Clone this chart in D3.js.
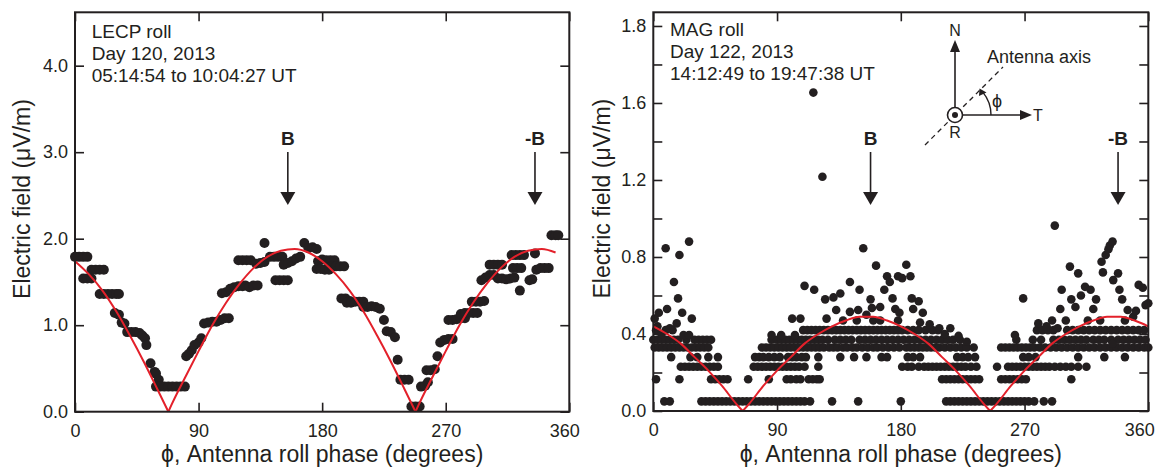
<!DOCTYPE html>
<html>
<head>
<meta charset="utf-8">
<script src="https://cdn.jsdelivr.net/npm/d3@7"></script>
<style>
  body { margin: 0; background: #fff; }
  svg text { font-family: "Liberation Sans", Arial, Helvetica, sans-serif; fill: #231f20; }
  .tick text { font-size: 18px; }
</style>
</head>
<body>
<svg id="chart" width="1161" height="468"></svg>
<script>
// ---- data ----
const xTicks = [0, 90, 180, 270, 360];

const lecpYTicks = [0, 1, 2, 3, 4];
const lecpYTickText = ["0.0", "1.0", "2.0", "3.0", "4.0"];
// the original figure labels the 2.0 tick "1.8"
const magYTicks = [0, 0.2, 0.4, 0.6, 0.8, 1.0, 1.2, 1.4, 1.6, 1.8, 2.0];
const magYTickText = ["0.0", "", "0.4", "", "0.8", "", "1.2", "", "1.6", "", "1.8"];

const lecpTitle = ["LECP roll", "Day 120, 2013", "05:14:54 to 10:04:27 UT"];
const magTitle = ["MAG roll", "Day 122, 2013", "14:12:49 to 19:47:38 UT"];

const arrowLabels = ["B", "-B"];
const lecpArrowPhi = [155, 335];
const magArrowPhi = [158, 338];

// LECP roll, [phase deg, field uV/m]
const lecpPoints = [
  [0,1.79],[3,1.79],[6,1.79],[9,1.79],
  [6,1.54],[9,1.54],[12,1.54],
  [12,1.64],[15,1.64],[18,1.64],[21,1.64],
  [18,1.36],[21,1.36],[24,1.36],[27,1.36],[30,1.36],[32,1.36],
  [29,1.14],[32,1.12],[34,1.03],[36,1.02],
  [38,0.92],[41,0.92],[44,0.92],[47,0.91],[49,0.88],[51,0.85],
  [52,0.77],[55,0.56],[58,0.46],[59,0.44],[61,0.37],
  [59,0.29],[62,0.29],[65,0.29],[68,0.29],[71,0.29],[74,0.29],[77,0.29],[80,0.29],
  [81,0.64],[83,0.67],[85,0.71],[87,0.77],[90,0.80],[92,0.85],
  [94,1.02],[97,1.03],[100,1.04],[103,1.04],[106,1.06],[109,1.08],[112,1.08],
  [107,1.37],[110,1.38],[113,1.42],[116,1.44],[119,1.45],[122,1.45],
  [119,1.75],[122,1.75],[125,1.75],[128,1.75],
  [124,1.46],[127,1.44],[130,1.46],[133,1.46],
  [132,1.71],[135,1.72],[138,1.73],[138,1.95],
  [142,1.79],[145,1.79],[148,1.79],[151,1.79],
  [146,1.52],[149,1.52],[152,1.52],[155,1.52],
  [152,1.70],[155,1.72],[158,1.74],[161,1.77],[164,1.79],
  [167,1.95],[170,1.89],[173,1.90],[176,1.88],
  [177,1.74],[180,1.76],[183,1.75],[186,1.75],[189,1.75],
  [176,1.65],[179,1.65],[182,1.64],[185,1.64],
  [187,1.68],[190,1.68],[193,1.68],[196,1.68],
  [194,1.31],[197,1.31],[200,1.28],
  [198,1.26],[201,1.26],[204,1.27],[207,1.27],[210,1.27],
  [210,1.21],[213,1.21],[216,1.22],[219,1.21],[222,1.19],
  [225,1.06],[227,0.93],[230,0.92],[233,0.86],[235,0.60],
  [237,0.37],[240,0.37],[243,0.37],
  [245,0.06],[248,0.06],[251,0.06],
  [252,0.29],[255,0.30],[257,0.34],
  [256,0.48],[259,0.48],[262,0.49],[264,0.64],
  [266,0.80],[269,0.83],[272,0.84],[275,0.84],
  [272,1.06],[275,1.06],[278,1.07],[281,1.08],[284,1.08],
  [281,1.13],[284,1.14],[287,1.14],[290,1.14],[293,1.14],
  [289,1.27],[292,1.27],[295,1.27],[298,1.28],
  [296,1.52],[299,1.55],[302,1.58],[305,1.58],
  [302,1.70],[305,1.70],[308,1.70],[311,1.70],
  [308,1.54],[311,1.54],[314,1.53],[317,1.54],[320,1.55],
  [318,1.81],[321,1.81],[324,1.81],[327,1.81],
  [319,1.66],[322,1.66],[325,1.66],[324,1.40],
  [331,1.52],[333,1.53],[335,1.83],
  [336,1.64],[339,1.66],[342,1.66],[345,1.66],
  [347,2.04],[350,2.04],[352,2.04]
];

// red fitted curves, [phase, field]
const lecpFit = [
  [0,1.74],[10,1.59],[20,1.40],[30,1.16],[40,0.88],[50,0.58],[60,0.26],[68,0],
  [70,0.07],[80,0.39],[90,0.70],[100,1.00],[110,1.26],[120,1.48],[130,1.66],[140,1.79],
  [150,1.86],[160,1.88],[170,1.84],[180,1.74],[190,1.59],[200,1.40],[210,1.16],[220,0.88],
  [230,0.58],[240,0.26],[248,0],
  [250,0.07],[260,0.39],[270,0.70],[280,1.00],[290,1.26],[300,1.48],[310,1.66],[320,1.79],
  [330,1.86],[340,1.88],[350,1.84]
];
const magFit = [
  [0,0.44],[10,0.40],[20,0.35],[30,0.28],[40,0.21],[50,0.13],[60,0.04],[65,0],
  [70,0.04],[80,0.13],[90,0.21],[100,0.28],[110,0.35],[120,0.40],[130,0.44],[140,0.47],
  [150,0.49],[160,0.49],[170,0.47],[180,0.44],[190,0.40],[200,0.35],[210,0.28],[220,0.21],
  [230,0.13],[240,0.04],[245,0],
  [250,0.04],[260,0.13],[270,0.21],[280,0.28],[290,0.35],[300,0.40],[310,0.44],[320,0.47],
  [330,0.49],[340,0.49],[350,0.47],[360,0.44]
];

// MAG roll: the field is quantised, so most points sit on a few levels (phase lists per level)
const magLevels = [0.05, 0.165, 0.23, 0.28, 0.33, 0.37, 0.42];
const magRow05 = [8,12,35,38,41,44,47,50,53,56,59,62,65,68,71,74,77,80,83,86,89,92,95,98,101,104,107,110,114,130,149,180,
  213,216,219,222,225,228,231,234,237,240,243,246,249,252,255,258,261,264,267,270,273,277,284,290];
const magRow17 = [2,19,42,45,48,51,54,69,84,97,100,104,107,113,116,119,121,
  210,213,216,219,222,225,228,231,234,237,253,256,259,262,265,268,271,304];
const magRow23 = [20,23,26,29,32,35,38,41,44,47,73,76,79,82,85,88,91,94,97,100,103,106,110,120,
  181,185,188,193,197,200,203,206,209,212,215,218,221,224,227,231,235,250,
  258,261,264,267,270,273,276,279,282,285,288,292,296,300,304,309,315];
const magRow28 = [13,27,32,40,47,74,77,80,84,88,92,98,101,104,108,111,120,136,146,155,166,170,185,189,194,
  221,225,229,234,269,273,278,309,328,343];
const magRow33 = [1,4,7,10,13,16,19,22,25,28,31,34,37,40,
  79,82,85,88,91,94,97,100,103,106,109,112,115,118,121,124,128,131,134,138,141,145,148,152,156,160,163,167,171,175,179,
  184,187,190,193,196,199,202,205,208,212,216,220,224,228,
  253,256,259,262,265,268,271,274,277,281,285,289,293,297,301,305,309,313,317,321,325,329,333,337,341,345,349,353,357,360];
const magRow37 = [0,3,6,9,12,15,18,24,30,33,36,39,42,
  86,90,93,96,99,102,105,108,111,114,117,120,123,127,132,136,140,144,150,154,158,162,166,170,174,178,
  182,186,190,194,198,202,206,210,214,218,223,
  264,276,282,291,295,299,303,307,311,315,320,324,328,333,338,342,346,350,354,358];
const magRow42 = [2,9,14,109,112,115,118,121,124,127,130,133,136,139,142,145,148,151,154,157,160,163,166,169,172,175,178,
  181,185,189,193,198,203,207,279,283,287,291,301,305,309,313,317,321,325,329,333,337,341,345,349,353,357];
// MAG roll points off the levels, [phase, field]
const magScatter = [
  [1,0.48],[4,0.51],[9,0.845],[10,0.53],[12,0.43],[15,0.67],[17,0.455],[18,0.585],[19,0.81],
  [21,0.51],[22,0.395],[26,0.88],[26,0.395],[28,0.48],[6,0.40],[3,0.44],
  [86,0.395],[93,0.395],[103,0.395],[101,0.48],[107,0.48],[110,0.65],[117,0.63],[116.4,1.654],[123,1.217],
  [125,0.58],[126,0.48],[131,0.59],[133,0.525],[136,0.61],[138,0.47],[143,0.67],[143,0.515],[148,0.47],
  [149,0.525],[150,0.63],[152.7,0.845],[155,0.50],[158,0.58],[159,0.535],[160,0.47],[162,0.755],[165,0.54],
  [165,0.47],[168,0.63],[170,0.70],[172,0.67],[174,0.585],[176,0.53],[178,0.70],[178,0.47],[179,0.51],
  [181,0.69],[184,0.76],[187,0.70],[188,0.585],[189,0.53],[193,0.57],[194,0.46],[196,0.51],[201,0.45],
  [208,0.43],[212,0.40],[216,0.43],[222,0.39],[228,0.36],[233,0.33],
  [263,0.395],[269,0.585],[280,0.455],[286,0.44],[292,0.963],[294,0.43],[296,0.53],[297,0.63],[303,0.75],
  [304,0.58],[307,0.54],[309,0.715],[311,0.60],[314,0.645],[318,0.63],[320,0.53],[322,0.58],[326,0.775],
  [327,0.72],[329,0.81],[331,0.84],[332,0.86],[334,0.88],[334.5,0.68],[338,0.715],[339,0.63],[341,0.58],
  [345,0.525],[349,0.49],[353,0.655],[356,0.64],[358,0.55],[360,0.56],[334,0.35],[316,0.47],[325,0.47],
  [300,0.47],[290,0.47],[343,0.47],[351,0.52]
];

// ---- drawing ----
const ink = "#231f20";
const red = "#e3202a";
const svg = d3.select("#chart");

const magRows = [magRow05, magRow17, magRow23, magRow28, magRow33, magRow37, magRow42];
const magPoints = magRows.flatMap((row, i) => row.map(p => [p, magLevels[i]])).concat(magScatter);

const panels = [
  { box: {l: 75, r: 569.3, t: 12.3, b: 411.7}, yMax: 4.617, yTicks: lecpYTicks, yText: lecpYTickText,
    points: lecpPoints, r: 5, fit: lecpFit, arrows: lecpArrowPhi, title: lecpTitle,
    titleX: 16.7, titleY: 38, yTitleX: 30, lastDx: -5 },
  { box: {l: 653.3, r: 1148.3, t: 12.3, b: 411}, yMax: 2.071, yTicks: magYTicks, yText: magYTickText,
    points: magPoints, r: 4.3, fit: magFit, arrows: magArrowPhi, title: magTitle,
    titleX: 16.7, titleY: 35.5, yTitleX: 610, lastDx: -9, inset: true }
];

panels.forEach(drawPanel);

function drawPanel(p) {
  const b = p.box;
  const x = d3.scaleLinear().domain([0, 360]).range([b.l, b.r]);
  const y = d3.scaleLinear().domain([0, p.yMax]).range([b.b, b.t]);

  // axes, ticks pointing inward
  const styleAxis = g => {
    g.select(".domain").remove();
    g.attr("color", ink);
    g.selectAll(".tick line").attr("stroke-width", 1.6);
  };
  svg.append("g").attr("transform", `translate(0,${b.b})`)
    .call(d3.axisBottom(x).tickValues(xTicks).tickSize(-9).tickPadding(12.5).tickFormat(d3.format("d")))
    .call(styleAxis)
    .call(g => g.selectAll(".tick text").filter(d => d === 360).attr("dx", p.lastDx));
  svg.append("g").attr("transform", `translate(0,${b.t})`)
    .call(d3.axisTop(x).tickValues(xTicks).tickSize(-9).tickFormat(() => ""))
    .call(styleAxis);
  svg.append("g").attr("transform", `translate(${b.l},0)`)
    .call(d3.axisLeft(y).tickValues(p.yTicks).tickSize(-9).tickPadding(7)
      .tickFormat((d, i) => p.yText[i]))
    .call(styleAxis);
  svg.append("g").attr("transform", `translate(${b.r},0)`)
    .call(d3.axisRight(y).tickValues(p.yTicks).tickSize(-9).tickFormat(() => ""))
    .call(styleAxis);

  // data points
  svg.append("g").selectAll("circle").data(p.points).join("circle")
    .attr("cx", d => x(d[0])).attr("cy", d => y(d[1])).attr("r", p.r)
    .attr("fill", ink);

  // fitted |cos| curve, split at the zeros so the cusps stay sharp
  const segs = [];
  let cur = [];
  p.fit.forEach(d => {
    cur.push(d);
    if (d[1] === 0) { segs.push(cur); cur = [d]; }
  });
  segs.push(cur);
  const line = d3.line().x(d => x(d[0])).y(d => y(d[1])).curve(d3.curveMonotoneX);
  svg.append("g").selectAll("path").data(segs).join("path")
    .attr("d", line).attr("fill", "none").attr("stroke", red).attr("stroke-width", 2);

  // frame
  svg.append("rect").attr("x", b.l).attr("y", b.t)
    .attr("width", b.r - b.l).attr("height", b.b - b.t)
    .attr("fill", "none").attr("stroke", ink).attr("stroke-width", 2);

  // B / -B arrows
  p.arrows.forEach((phi, i) => {
    const ax = x(phi);
    svg.append("text").attr("x", ax).attr("y", 145).attr("text-anchor", "middle")
      .attr("font-size", 19).attr("font-weight", "bold").text(arrowLabels[i]);
    svg.append("line").attr("x1", ax).attr("x2", ax).attr("y1", 152).attr("y2", 193)
      .attr("stroke", ink).attr("stroke-width", 1.6);
    svg.append("path").attr("d", `M${ax - 7.5},192L${ax + 7.5},192L${ax},205Z`).attr("fill", ink);
  });

  // run description
  svg.append("g").selectAll("text").data(p.title).join("text")
    .attr("x", b.l + p.titleX).attr("y", (d, i) => p.titleY + i * 22)
    .attr("font-size", 19).text(d => d);

  // axis titles
  svg.append("text").attr("x", (b.l + b.r) / 2).attr("y", 462).attr("text-anchor", "middle")
    .attr("font-size", 23).text("\u03d5, Antenna roll phase (degrees)");
  svg.append("text").attr("transform", `translate(${p.yTitleX},${(b.t + b.b) / 2 - 13}) rotate(-90)`)
    .attr("text-anchor", "middle").attr("font-size", 23).text("Electric field (\u03bcV/m)");

  if (p.inset) drawInset(955, 115);
}

// spacecraft frame sketch: N/T axes, R out of page, antenna axis at angle phi
function drawInset(cx, cy) {
  const g = svg.append("g").attr("transform", `translate(${cx},${cy})`);
  g.append("line").attr("x1", -30).attr("y1", 30).attr("x2", 48).attr("y2", -48)
    .attr("stroke", ink).attr("stroke-width", 1.3).attr("stroke-dasharray", "5,4");
  g.append("line").attr("x1", 0).attr("y1", -7).attr("x2", 0).attr("y2", -64)
    .attr("stroke", ink).attr("stroke-width", 1.6);
  g.append("path").attr("d", "M-5,-63L5,-63L0,-75Z").attr("fill", ink);
  g.append("line").attr("x1", 7).attr("y1", 0).attr("x2", 66).attr("y2", 0)
    .attr("stroke", ink).attr("stroke-width", 1.6);
  g.append("path").attr("d", "M65,-5L65,5L77,0Z").attr("fill", ink);
  g.append("circle").attr("r", 7.5).attr("fill", "#fff").attr("stroke", ink).attr("stroke-width", 1.6);
  g.append("circle").attr("r", 3).attr("fill", ink);
  const a = 40 * Math.PI / 180, R = 36;
  g.append("path").attr("d", `M${R},0A${R},${R} 0 0 0 ${R * Math.cos(a)},${-R * Math.sin(a)}`)
    .attr("fill", "none").attr("stroke", ink).attr("stroke-width", 1.4);
  g.append("path").attr("d", "M24.5,-26.5L31.5,-22.5L24,-19Z").attr("fill", ink);
  g.append("text").attr("x", 0).attr("y", -79).attr("text-anchor", "middle").attr("font-size", 16).text("N");
  g.append("text").attr("x", 78).attr("y", 5.5).attr("font-size", 16).text("T");
  g.append("text").attr("x", 0).attr("y", 23).attr("text-anchor", "middle").attr("font-size", 16).text("R");
  g.append("text").attr("x", 37).attr("y", -8).attr("font-size", 18).text("\u03d5");
  g.append("text").attr("x", 32).attr("y", -52).attr("font-size", 18).text("Antenna axis");
}
</script>
</body>
</html>
